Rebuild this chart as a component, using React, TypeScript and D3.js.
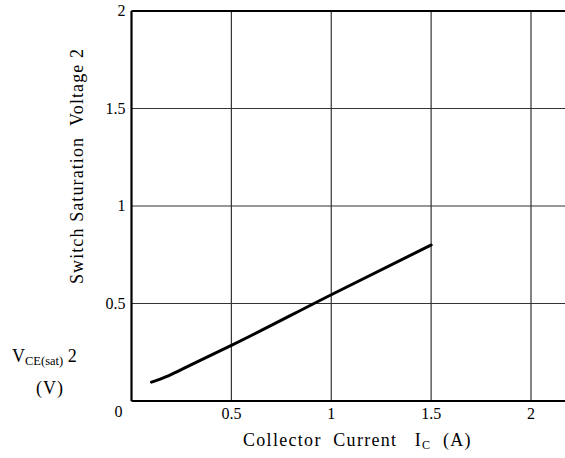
import React from "react";
import * as d3 from "d3";

const xTicks = [0.5, 1, 1.5, 2];
const yTicks = [0.5, 1, 1.5, 2];
const currentA = [0.1, 0.15, 0.2, 0.3, 0.5, 1.0, 1.5];
const vceSat = [0.097, 0.115, 0.137, 0.187, 0.285, 0.545, 0.8];

const W = 565, H = 458;
const x = d3.scaleLinear().domain([0, 2]).range([131.5, 531]);
const y = d3.scaleLinear().domain([0, 2]).range([401, 11]);
const font = "\"Liberation Serif\", \"Times New Roman\", Times, serif";

export default function App() {
  const line = d3.line<number>().x((_, i) => x(currentA[i])).y((d) => y(d)).curve(d3.curveMonotoneX);
  return (
    <svg width={W} height={H} style={{ position: "absolute", left: 0, top: 0, background: "#fff", fontFamily: font }}>
      {xTicks.map((t) => (
        <line key={"gx" + t} x1={x(t)} x2={x(t)} y1={y(2)} y2={y(0)} stroke="#333" strokeWidth={1.2} />
      ))}
      {yTicks.map((t) => (
        <line key={"gy" + t} x1={x(0)} x2={W} y1={y(t)} y2={y(t)} stroke="#333" strokeWidth={1.2} />
      ))}
      <line x1={x(0)} x2={W} y1={y(0)} y2={y(0)} stroke="#000" strokeWidth={2.2} />
      <line x1={x(0)} x2={W} y1={y(2)} y2={y(2)} stroke="#000" strokeWidth={2.2} />
      <line x1={x(0)} x2={x(0)} y1={y(2)} y2={y(0)} stroke="#000" strokeWidth={2.2} />
      <path d={line(vceSat) || ""} fill="none" stroke="#000" strokeWidth={3} strokeLinecap="round" />
      {yTicks.map((t) => (
        <text key={"ty" + t} x={x(0) - 6} y={y(t) + 5} textAnchor="end" fontSize={16}>{String(t)}</text>
      ))}
      <text x={x(0) - 9} y={y(0) + 16} textAnchor="end" fontSize={16}>0</text>
      {xTicks.map((t) => (
        <text key={"tx" + t} x={x(t)} y={y(0) + 18} textAnchor="middle" fontSize={16}>{String(t)}</text>
      ))}
      <text transform="translate(83,166) rotate(-90)" textAnchor="middle" fontSize={18} letterSpacing={1.1} style={{ whiteSpace: "pre" }}>
        {"Switch Saturation  Voltage 2"}
      </text>
      <text x={12} y={362} fontSize={18}>
        V<tspan fontSize={12.5} dy={3}>CE(sat)</tspan><tspan dy={-3} fontSize={18}> 2</tspan>
      </text>
      <text x={50} y={394} fontSize={18} textAnchor="middle" letterSpacing={1}>(V)</text>
      <text x={243} y={446} fontSize={18} letterSpacing={1.3} style={{ whiteSpace: "pre" }}>
        {"Collector  Current   I"}<tspan fontSize={12} dy={3}>C</tspan><tspan dy={-3} fontSize={18}>{"  (A)"}</tspan>
      </text>
    </svg>
  );
}
